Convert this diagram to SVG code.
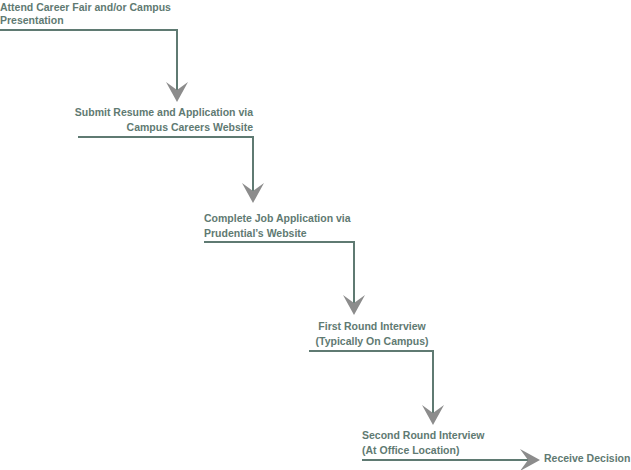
<svg xmlns="http://www.w3.org/2000/svg" width="631" height="470" viewBox="0 0 631 470">
<style>
text{font-family:"Liberation Sans",Arial,sans-serif;font-weight:bold;font-size:10.5px;fill:#5f7a72}
.c{fill:none;stroke:#5f7a72;stroke-width:2}
.h{fill:#8c8c8c}
</style>
<defs><path id="chev" d="M0,0 L-11,-20 L0,-12 L11,-20 Z"/></defs>
<rect width="631" height="470" fill="#fff"/>
<g id="connectors">
<path class="c" d="M0,30 H177 V90"/><use href="#chev" class="h" x="177" y="102"/>
<path class="c" d="M78,137 H253 V191"/><use href="#chev" class="h" x="253" y="203"/>
<path class="c" d="M204,242 H354 V303"/><use href="#chev" class="h" x="354" y="315"/>
<path class="c" d="M309,351 H433 V413"/><use href="#chev" class="h" x="433" y="425"/>
<path class="c" d="M362,460 H528"/><use href="#chev" class="h" transform="translate(540,460) rotate(-90)"/>
</g>
<g id="n1"><text x="0" y="11">Attend Career Fair and/or Campus</text><text x="0" y="24">Presentation</text></g>
<g id="n2" text-anchor="end"><text x="253" y="116">Submit Resume and Application via</text><text x="253" y="131">Campus Careers Website</text></g>
<g id="n3"><text x="204" y="222">Complete Job Application via</text><text x="204" y="237">Prudential’s Website</text></g>
<g id="n4" text-anchor="middle"><text x="372" y="330">First Round Interview</text><text x="372" y="345">(Typically On Campus)</text></g>
<g id="n5"><text x="362" y="439">Second Round Interview</text><text x="362" y="454">(At Office Location)</text></g>
<g id="n6"><text x="544" y="462">Receive Decision</text></g>
</svg>
